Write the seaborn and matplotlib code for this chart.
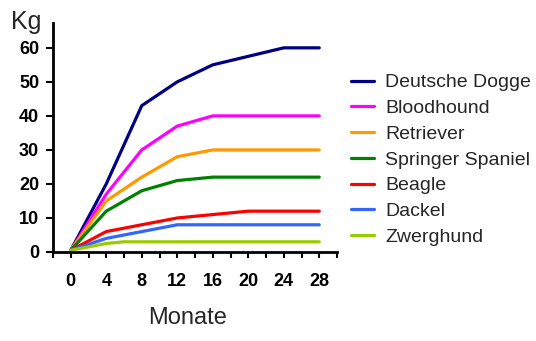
import matplotlib
matplotlib.use("Agg")
import matplotlib.pyplot as plt
import seaborn as sns
import pandas as pd
from matplotlib.ticker import FixedLocator

months = [0, 4, 8, 12, 16, 20, 24, 28]
breeds = ["Deutsche Dogge", "Bloodhound", "Retriever", "Springer Spaniel",
          "Beagle", "Dackel", "Zwerghund"]
dogge = [0.5, 20, 43, 50, 55, 57.5, 60, 60]
bloodhound = [0.5, 17, 30, 37, 40, 40, 40, 40]
retriever = [0.5, 15, 22, 28, 30, 30, 30, 30]
springer = [0.5, 12, 18, 21, 22, 22, 22, 22]
beagle = [0.5, 6, 8, 10, 11, 12, 12, 12]
dackel = [0.5, 4, 6, 8, 8, 8, 8, 8]
zwerg_months = [0, 4, 6, 28]
zwerghund = [0.5, 2.5, 3, 3]
colors = ["#000080", "#FF00FF", "#FF9900", "#008000", "#FF0000", "#3366FF", "#99CC00"]

rows = []
for name, vals in zip(breeds[:-1], [dogge, bloodhound, retriever, springer, beagle, dackel]):
    for m, v in zip(months, vals):
        rows.append((name, m, v))
for m, v in zip(zwerg_months, zwerghund):
    rows.append(("Zwerghund", m, v))
df = pd.DataFrame(rows, columns=["Rasse", "Monate", "Kg"])

sns.set_style("white")
plt.rcParams['font.family'] = ['Liberation Sans', 'DejaVu Sans']

fig = plt.figure(figsize=(5.36, 3.41), dpi=100)
ax = fig.add_axes([53/536, 1 - 252/341, 284/536, (252 - 23)/341])
sns.lineplot(data=df, x="Monate", y="Kg", hue="Rasse", hue_order=breeds,
             palette=colors, linewidth=2.3, ax=ax, legend=True, estimator=None)

ax.set_xlim(-2, 30)
ax.set_ylim(0, 67.3)
ax.xaxis.set_major_locator(FixedLocator([0, 4, 8, 12, 16, 20, 24, 28]))
ax.xaxis.set_minor_locator(FixedLocator([-2, 2, 6, 10, 14, 18, 22, 26, 30]))
ax.set_yticks([0, 10, 20, 30, 40, 50, 60])
for s in ["top", "right"]:
    ax.spines[s].set_visible(False)
for s in ["left", "bottom"]:
    ax.spines[s].set_linewidth(2)
    ax.spines[s].set_color("black")
ax.tick_params(axis="x", which="both", direction="out", length=4, width=1.5,
               bottom=True, colors="black", labelsize=13, pad=11)
ax.tick_params(axis="y", which="major", direction="out", length=5, width=1.5,
               left=True, colors="black", labelsize=13, pad=5)
for lab in ax.get_xticklabels() + ax.get_yticklabels():
    lab.set_fontweight("bold")
ax.set_xlabel("")
ax.set_ylabel("")
fig.text(188/536, 1 - 318/341, "Monate", fontsize=17, ha="center", va="center")
fig.text(11/536, 1 - 22/341, "Kg", fontsize=18, ha="left", va="center")

handles, labels = ax.get_legend_handles_labels()
leg = ax.legend(handles, labels, loc="upper left", bbox_to_anchor=(343/536, 1 - 66/341),
                bbox_transform=fig.transFigure, frameon=False, fontsize=14,
                handlelength=1.2, handletextpad=0.57, labelspacing=0.42, borderaxespad=0)
for line in leg.get_lines():
    line.set_linewidth(2.3)

fig.savefig("out.png", dpi=100)
